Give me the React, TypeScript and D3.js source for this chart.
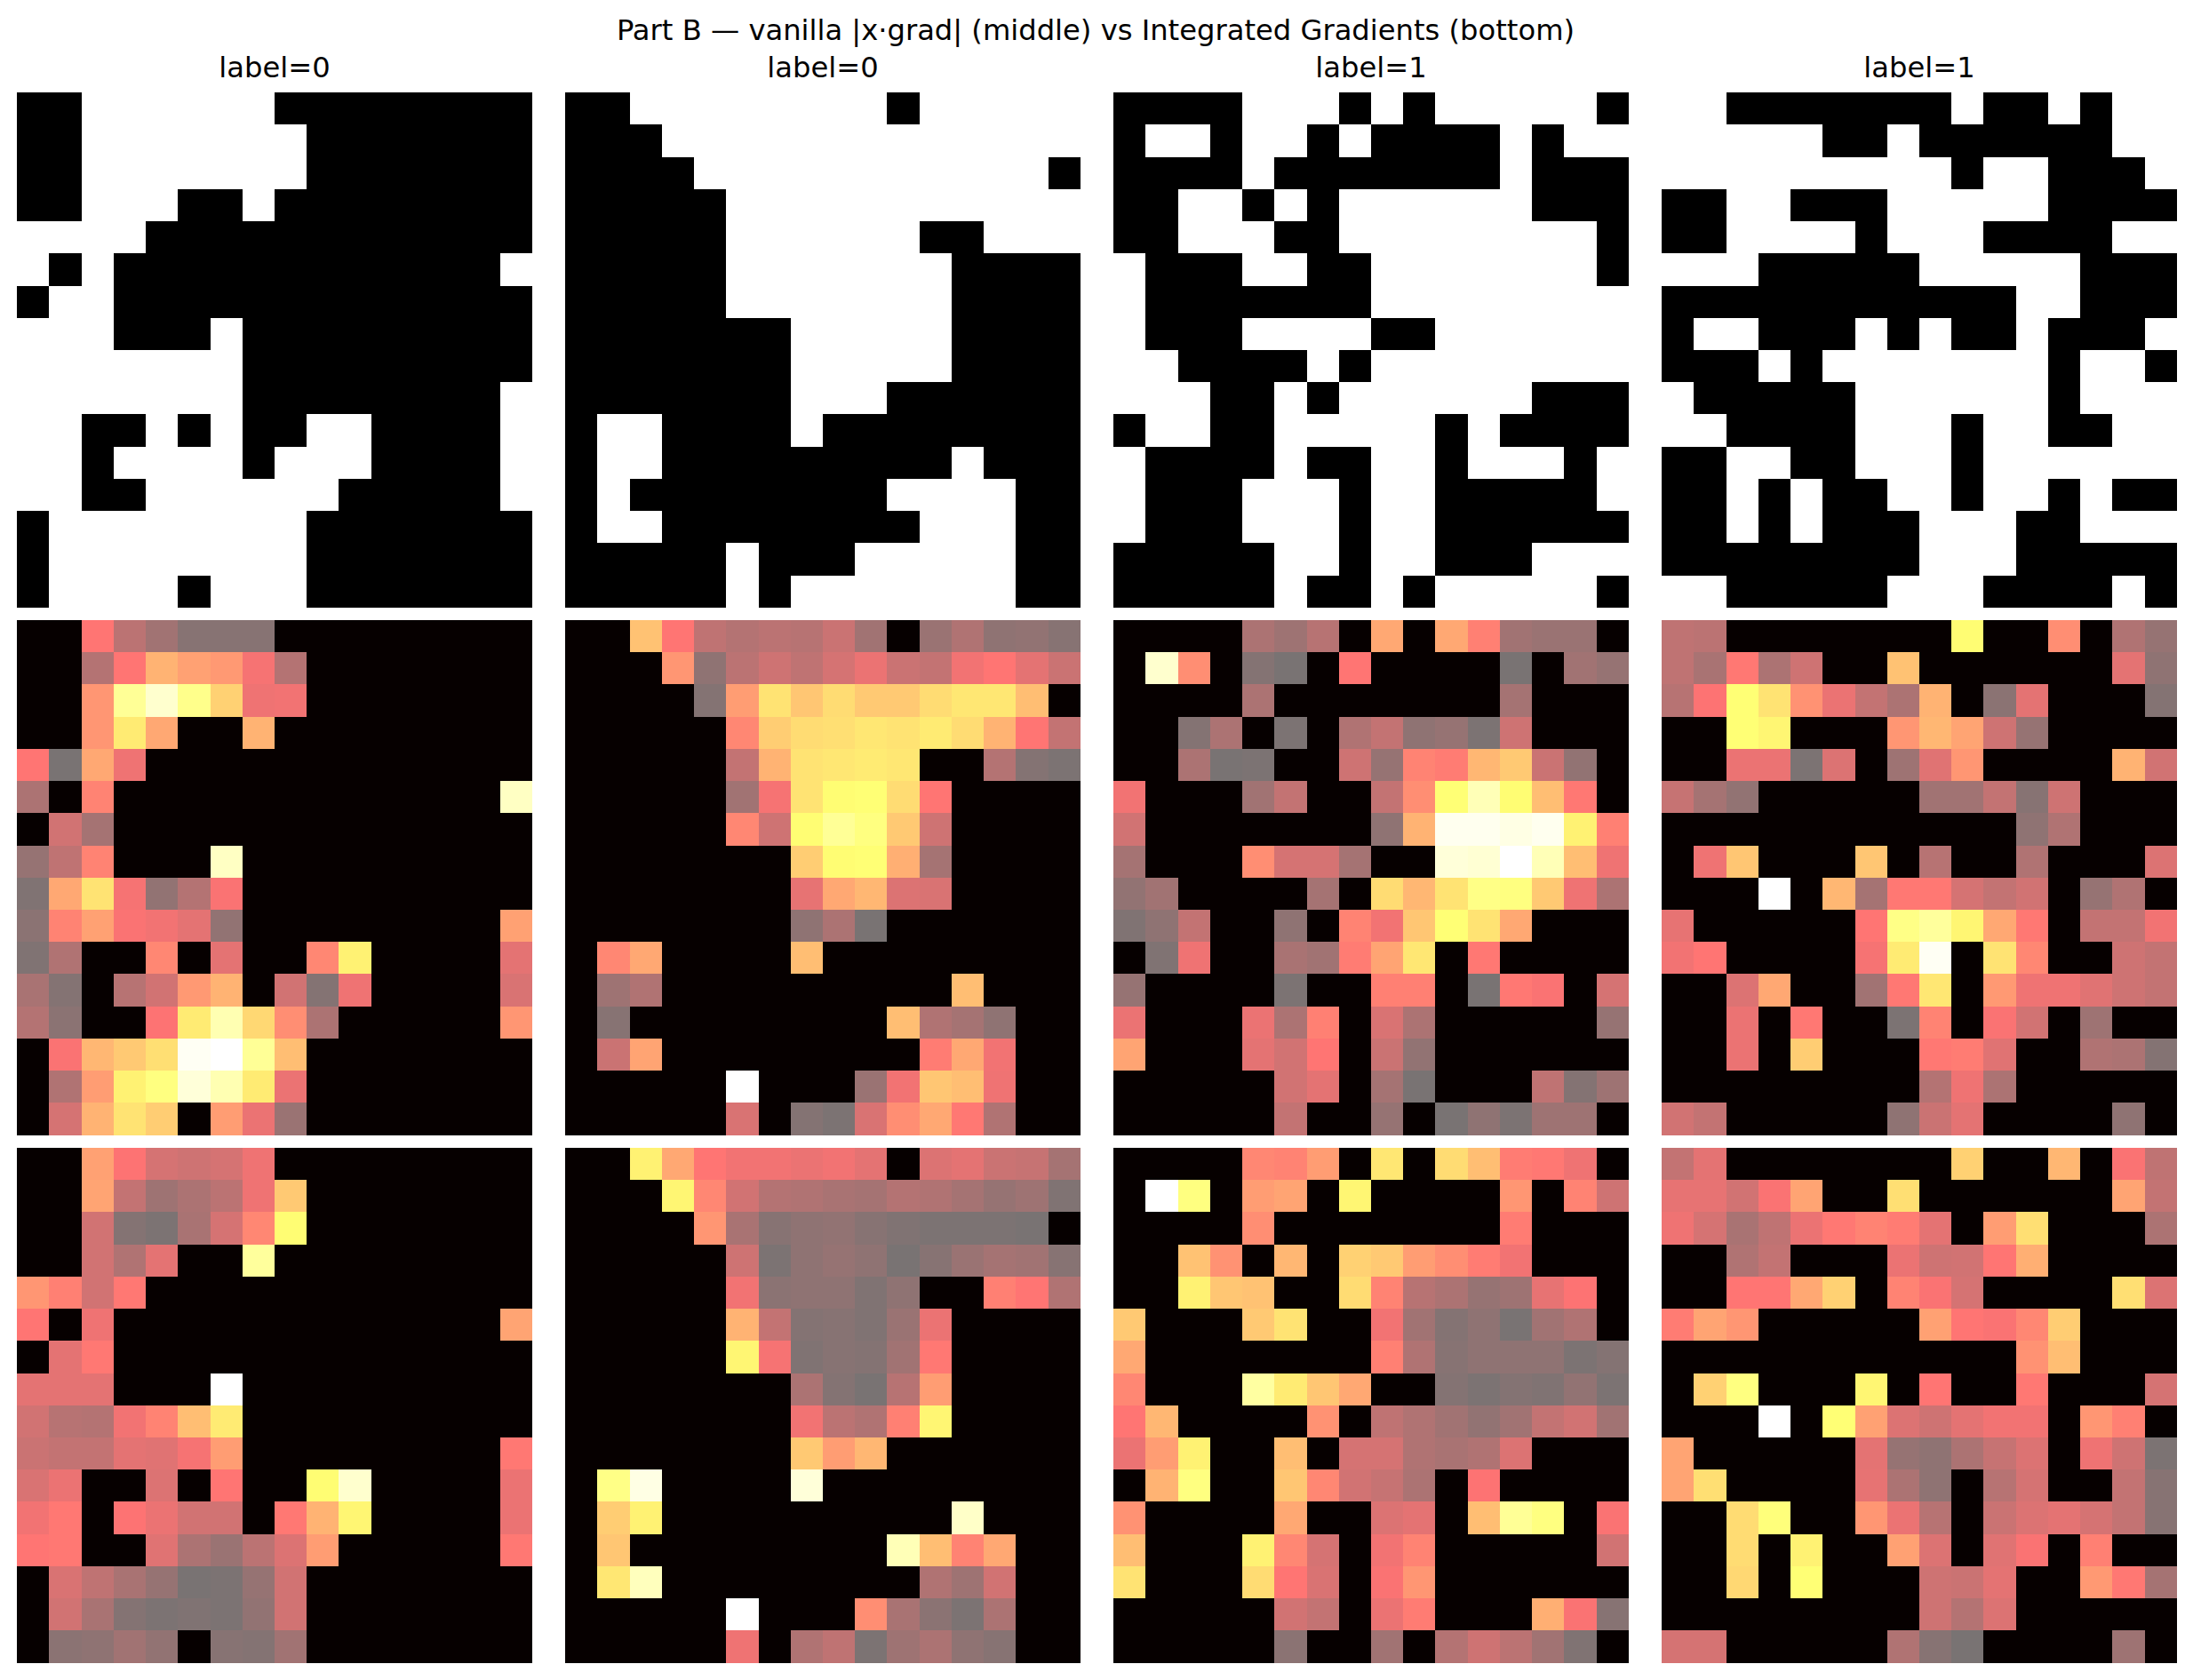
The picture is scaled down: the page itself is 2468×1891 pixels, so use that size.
import { useEffect, useRef } from "react";
import * as d3 from "d3";

const title = "Part B — vanilla |x·grad| (middle) vs Integrated Gradients (bottom)";
const labels = [0, 0, 1, 1];

// input images, # = black pixel
const input0 = [
  "##......########",
  "##.......#######",
  "##.......#######",
  "##...##.########",
  "....############",
  ".#.############.",
  "#..#############",
  "...###.#########",
  ".......#########",
  ".......########.",
  "..##.#.##..####.",
  "..#....#...####.",
  "..##......#####.",
  "#........#######",
  "#........#######",
  "#....#...#######",
];
const input1 = [
  "##........#.....",
  "###.............",
  "####...........#",
  "#####...........",
  "#####......##...",
  "#####.......####",
  "#####.......####",
  "#######.....####",
  "#######.....####",
  "#######...######",
  "#..####.########",
  "#..#########.###",
  "#.########....##",
  "#..########...##",
  "#####.###.....##",
  "#####.#.......##",
];
const input2 = [
  "####...#.#.....#",
  "#..#..#.####.#..",
  "####.#######.###",
  "##..#.#......###",
  "##...##........#",
  ".###..##.......#",
  ".#######........",
  ".###....##......",
  "..####.#........",
  "...##.#......###",
  "#..##.....#.####",
  ".####.##..#...#.",
  ".###...#..#####.",
  ".###...#..######",
  "#####..#..###...",
  "#####.##.#.....#",
];
const input3 = [
  "..#######.##.#..",
  ".....##.######..",
  ".........#..###.",
  "##..###.....####",
  "##....#...####..",
  "...#####.....###",
  "###########..###",
  "#..###.#.##.###.",
  "###.#.......#..#",
  ".#####......#...",
  "..####...#..##..",
  "##..##...#......",
  "##.#.##..#..#.##",
  "##.#.###...##...",
  "########...#####",
  "..#####...####.#",
];

// vanilla |x*grad|, normalised, in percent
const vanilla0 = [
  [0, 0, 37, 18, 11, 4, 4, 4, 0, 0, 0, 0, 0, 0, 0, 0],
  [0, 0, 16, 37, 54, 49, 47, 34, 16, 0, 0, 0, 0, 0, 0, 0],
  [0, 0, 46, 81, 91, 79, 62, 32, 33, 0, 0, 0, 0, 0, 0, 0],
  [0, 0, 46, 69, 51, 0, 0, 54, 0, 0, 0, 0, 0, 0, 0, 0],
  [37, 0, 51, 32, 0, 0, 0, 0, 0, 0, 0, 0, 0, 0, 0, 0],
  [14, 0, 41, 0, 0, 0, 0, 0, 0, 0, 0, 0, 0, 0, 0, 89],
  [0, 24, 12, 0, 0, 0, 0, 0, 0, 0, 0, 0, 0, 0, 0, 0],
  [8, 19, 41, 0, 0, 0, 89, 0, 0, 0, 0, 0, 0, 0, 0, 0],
  [2, 51, 67, 34, 7, 16, 35, 0, 0, 0, 0, 0, 0, 0, 0, 0],
  [5, 41, 49, 35, 33, 29, 7, 0, 0, 0, 0, 0, 0, 0, 0, 49],
  [2, 15, 0, 0, 42, 0, 29, 0, 0, 42, 71, 0, 0, 0, 0, 29],
  [13, 3, 0, 17, 24, 47, 54, 0, 24, 3, 32, 0, 0, 0, 0, 26],
  [16, 5, 0, 0, 36, 69, 86, 64, 44, 14, 0, 0, 0, 0, 0, 46],
  [0, 35, 55, 60, 66, 98, 100, 81, 57, 0, 0, 0, 0, 0, 0, 0],
  [0, 15, 48, 71, 77, 93, 86, 69, 31, 0, 0, 0, 0, 0, 0, 0],
  [0, 25, 54, 67, 61, 0, 48, 31, 9, 0, 0, 0, 0, 0, 0, 0],
];
const vanilla1 = [
  [0, 0, 58, 37, 19, 16, 18, 17, 22, 11, 0, 9, 15, 6, 7, 4],
  [0, 0, 0, 46, 6, 18, 23, 19, 25, 31, 22, 20, 33, 37, 29, 22],
  [0, 0, 0, 0, 3, 48, 67, 59, 65, 60, 60, 65, 68, 68, 57, 0],
  [0, 0, 0, 0, 0, 42, 61, 65, 66, 68, 67, 69, 65, 54, 37, 20],
  [0, 0, 0, 0, 0, 20, 54, 67, 68, 69, 68, 0, 0, 16, 3, 1],
  [0, 0, 0, 0, 0, 11, 34, 67, 74, 75, 65, 37, 0, 0, 0, 0],
  [0, 0, 0, 0, 0, 42, 23, 74, 81, 77, 60, 23, 0, 0, 0, 0],
  [0, 0, 0, 0, 0, 0, 0, 61, 74, 75, 53, 12, 0, 0, 0, 0],
  [0, 0, 0, 0, 0, 0, 0, 30, 51, 55, 27, 26, 0, 0, 0, 0],
  [0, 0, 0, 0, 0, 0, 0, 6, 14, 0, 0, 0, 0, 0, 0, 0],
  [0, 42, 51, 0, 0, 0, 0, 57, 0, 0, 0, 0, 0, 0, 0, 0],
  [0, 10, 15, 0, 0, 0, 0, 0, 0, 0, 0, 0, 57, 0, 0, 0],
  [0, 4, 0, 0, 0, 0, 0, 0, 0, 0, 57, 15, 12, 6, 0, 0],
  [0, 22, 50, 0, 0, 0, 0, 0, 0, 0, 0, 39, 51, 33, 0, 0],
  [0, 0, 0, 0, 0, 100, 0, 0, 0, 9, 33, 59, 57, 32, 0, 0],
  [0, 0, 0, 0, 0, 26, 0, 3, 1, 26, 44, 51, 38, 15, 0, 0],
];
const vanilla2 = [
  [0, 0, 0, 0, 14, 10, 17, 0, 51, 0, 51, 40, 11, 9, 9, 0],
  [0, 91, 44, 0, 3, 0, 0, 37, 0, 0, 0, 0, 0, 0, 11, 8],
  [0, 0, 0, 0, 14, 0, 0, 0, 0, 0, 0, 0, 12, 0, 0, 0],
  [0, 0, 3, 14, 0, 1, 0, 15, 20, 6, 8, 1, 23, 0, 0, 0],
  [0, 0, 14, 0, 1, 0, 0, 23, 8, 41, 39, 55, 60, 22, 7, 0],
  [33, 0, 0, 0, 11, 20, 0, 0, 20, 44, 75, 87, 74, 57, 38, 0],
  [24, 0, 0, 0, 0, 0, 0, 0, 6, 54, 97, 97, 95, 97, 71, 40],
  [12, 0, 0, 0, 44, 25, 25, 12, 0, 0, 93, 92, 100, 87, 57, 32],
  [7, 11, 0, 0, 0, 0, 12, 0, 65, 55, 67, 78, 77, 60, 32, 14],
  [2, 6, 20, 0, 0, 6, 0, 41, 33, 59, 75, 67, 51, 0, 0, 0],
  [0, 2, 32, 0, 0, 13, 11, 39, 50, 68, 0, 38, 0, 0, 0, 0],
  [8, 0, 0, 0, 0, 1, 0, 0, 40, 40, 0, 0, 38, 35, 0, 25],
  [31, 0, 0, 0, 31, 14, 40, 0, 26, 14, 0, 0, 0, 0, 0, 8],
  [50, 0, 0, 0, 29, 24, 37, 0, 22, 7, 0, 0, 0, 0, 0, 0],
  [0, 0, 0, 0, 0, 24, 29, 0, 12, 0, 0, 0, 0, 19, 3, 10],
  [0, 0, 0, 0, 0, 20, 0, 0, 8, 0, 0, 6, 1, 10, 10, 0],
];
const vanilla3 = [
  [19, 18, 0, 0, 0, 0, 0, 0, 0, 74, 0, 0, 44, 0, 15, 8],
  [19, 13, 38, 14, 23, 0, 0, 58, 0, 0, 0, 0, 0, 0, 29, 6],
  [17, 36, 75, 67, 45, 31, 20, 14, 54, 0, 5, 29, 0, 0, 0, 3],
  [0, 0, 75, 72, 0, 0, 0, 46, 55, 50, 23, 8, 0, 0, 0, 0],
  [0, 0, 31, 31, 1, 27, 0, 10, 28, 46, 0, 0, 0, 0, 54, 24],
  [21, 12, 7, 0, 0, 0, 0, 0, 11, 11, 20, 4, 23, 0, 0, 0],
  [0, 0, 0, 0, 0, 0, 0, 0, 0, 0, 0, 6, 15, 0, 0, 0],
  [0, 32, 59, 0, 0, 0, 59, 0, 17, 0, 0, 15, 0, 0, 0, 27],
  [0, 0, 0, 100, 0, 55, 12, 38, 38, 25, 20, 24, 0, 8, 15, 0],
  [30, 0, 0, 0, 0, 0, 37, 78, 82, 72, 51, 38, 0, 20, 20, 33],
  [33, 37, 0, 0, 0, 0, 34, 69, 98, 0, 67, 42, 0, 0, 23, 20],
  [0, 0, 27, 51, 0, 0, 11, 38, 68, 0, 47, 32, 32, 28, 23, 20],
  [0, 0, 31, 0, 38, 0, 0, 1, 41, 0, 35, 24, 0, 10, 0, 0],
  [0, 0, 31, 0, 61, 0, 0, 0, 38, 39, 28, 0, 0, 15, 14, 3],
  [0, 0, 0, 0, 0, 0, 0, 0, 16, 32, 14, 0, 0, 0, 0, 0],
  [24, 20, 0, 0, 0, 0, 0, 6, 22, 29, 0, 0, 0, 0, 6, 0],
];

// integrated gradients, normalised, in percent
const integrated0 = [
  [0, 0, 49, 36, 25, 23, 25, 32, 0, 0, 0, 0, 0, 0, 0, 0],
  [0, 0, 50, 20, 10, 14, 18, 32, 60, 0, 0, 0, 0, 0, 0, 0],
  [0, 0, 24, 3, 1, 13, 25, 42, 74, 0, 0, 0, 0, 0, 0, 0],
  [0, 0, 24, 15, 29, 0, 0, 82, 0, 0, 0, 0, 0, 0, 0, 0],
  [46, 40, 24, 38, 0, 0, 0, 0, 0, 0, 0, 0, 0, 0, 0, 0],
  [37, 0, 32, 0, 0, 0, 0, 0, 0, 0, 0, 0, 0, 0, 0, 50],
  [0, 29, 38, 0, 0, 0, 0, 0, 0, 0, 0, 0, 0, 0, 0, 0],
  [29, 29, 29, 0, 0, 0, 100, 0, 0, 0, 0, 0, 0, 0, 0, 0],
  [24, 17, 16, 33, 41, 57, 69, 0, 0, 0, 0, 0, 0, 0, 0, 0],
  [22, 20, 20, 29, 28, 34, 48, 0, 0, 0, 0, 0, 0, 0, 0, 38],
  [26, 31, 0, 0, 27, 0, 37, 0, 0, 74, 91, 0, 0, 0, 0, 31],
  [33, 38, 0, 36, 31, 24, 24, 0, 38, 54, 72, 0, 0, 0, 0, 31],
  [37, 38, 0, 0, 28, 14, 9, 18, 27, 48, 0, 0, 0, 0, 0, 38],
  [0, 26, 19, 13, 8, 0, 1, 8, 24, 0, 0, 0, 0, 0, 0, 0],
  [0, 24, 13, 3, 1, 2, 1, 7, 24, 0, 0, 0, 0, 0, 0, 0],
  [0, 5, 6, 11, 7, 0, 4, 3, 11, 0, 0, 0, 0, 0, 0, 0],
];
const integrated1 = [
  [0, 0, 71, 51, 37, 33, 33, 31, 33, 29, 0, 27, 29, 22, 21, 12],
  [0, 0, 0, 72, 42, 24, 16, 15, 13, 12, 16, 15, 12, 8, 10, 2],
  [0, 0, 0, 0, 46, 13, 4, 6, 7, 4, 2, 1, 1, 1, 0, 0],
  [0, 0, 0, 0, 0, 23, 1, 6, 8, 6, 0, 4, 9, 12, 11, 4],
  [0, 0, 0, 0, 0, 33, 5, 6, 6, 2, 6, 0, 0, 40, 37, 15],
  [0, 0, 0, 0, 0, 54, 20, 3, 4, 2, 9, 31, 0, 0, 0, 0],
  [0, 0, 0, 0, 0, 72, 34, 2, 4, 3, 11, 38, 0, 0, 0, 0],
  [0, 0, 0, 0, 0, 0, 0, 14, 3, 0, 17, 48, 0, 0, 0, 0],
  [0, 0, 0, 0, 0, 0, 0, 33, 18, 15, 40, 72, 0, 0, 0, 0],
  [0, 0, 0, 0, 0, 0, 0, 60, 48, 55, 0, 0, 0, 0, 0, 0],
  [0, 78, 95, 0, 0, 0, 0, 93, 0, 0, 0, 0, 0, 0, 0, 0],
  [0, 61, 71, 0, 0, 0, 0, 0, 0, 0, 0, 0, 90, 0, 0, 0],
  [0, 59, 0, 0, 0, 0, 0, 0, 0, 0, 87, 57, 41, 51, 0, 0],
  [0, 68, 88, 0, 0, 0, 0, 0, 0, 0, 0, 15, 10, 24, 0, 0],
  [0, 0, 0, 0, 0, 100, 0, 0, 0, 44, 13, 5, 1, 14, 0, 0],
  [0, 0, 0, 0, 0, 32, 0, 15, 19, 1, 10, 14, 6, 4, 0, 0],
];
const integrated2 = [
  [0, 0, 0, 0, 42, 41, 48, 0, 68, 0, 65, 57, 39, 38, 32, 0],
  [0, 100, 77, 0, 48, 50, 0, 72, 0, 0, 0, 0, 46, 0, 41, 23],
  [0, 0, 0, 0, 44, 0, 0, 0, 0, 0, 0, 0, 39, 0, 0, 0],
  [0, 0, 58, 45, 0, 55, 0, 62, 60, 48, 44, 39, 33, 0, 0, 0],
  [0, 0, 71, 59, 58, 0, 0, 65, 41, 17, 14, 8, 10, 30, 36, 0],
  [60, 0, 0, 0, 60, 67, 0, 0, 33, 11, 3, 6, 0, 11, 15, 0],
  [51, 0, 0, 0, 0, 0, 0, 0, 40, 15, 4, 6, 6, 6, 1, 3],
  [42, 0, 0, 0, 83, 69, 59, 51, 0, 0, 3, 1, 3, 2, 7, 1],
  [37, 55, 0, 0, 0, 0, 45, 0, 19, 15, 11, 7, 11, 20, 24, 11],
  [31, 48, 71, 0, 0, 57, 0, 25, 25, 15, 13, 15, 27, 0, 0, 0],
  [0, 54, 77, 0, 0, 59, 42, 24, 21, 14, 0, 36, 0, 0, 0, 0],
  [45, 0, 0, 0, 0, 51, 0, 0, 27, 29, 0, 57, 81, 77, 0, 35],
  [57, 0, 0, 0, 71, 42, 25, 0, 33, 41, 0, 0, 0, 0, 0, 24],
  [67, 0, 0, 0, 65, 37, 26, 0, 35, 46, 0, 0, 0, 0, 0, 0],
  [0, 0, 0, 0, 0, 24, 20, 0, 31, 39, 0, 0, 0, 53, 35, 4],
  [0, 0, 0, 0, 0, 5, 0, 0, 11, 0, 16, 23, 18, 11, 2, 0],
];
const integrated3 = [
  [20, 29, 0, 0, 0, 0, 0, 0, 0, 62, 0, 0, 55, 0, 35, 19],
  [30, 30, 24, 35, 50, 0, 0, 66, 0, 0, 0, 0, 0, 0, 50, 20],
  [32, 25, 13, 19, 31, 38, 41, 39, 29, 0, 48, 66, 0, 0, 0, 14],
  [0, 0, 15, 20, 0, 0, 0, 31, 23, 24, 37, 53, 0, 0, 0, 0],
  [0, 0, 37, 37, 51, 62, 0, 41, 35, 25, 0, 0, 0, 0, 66, 27],
  [39, 50, 46, 0, 0, 0, 0, 0, 49, 37, 35, 42, 61, 0, 0, 0],
  [0, 0, 0, 0, 0, 0, 0, 0, 0, 0, 0, 45, 57, 0, 0, 0],
  [0, 62, 77, 0, 0, 0, 72, 0, 37, 0, 0, 38, 0, 0, 0, 25],
  [0, 0, 0, 100, 0, 75, 49, 27, 23, 29, 33, 33, 0, 46, 40, 0],
  [50, 0, 0, 0, 0, 0, 29, 8, 6, 14, 21, 27, 0, 32, 23, 1],
  [50, 66, 0, 0, 0, 0, 30, 14, 6, 0, 17, 25, 0, 0, 20, 4],
  [0, 0, 65, 76, 0, 0, 46, 31, 17, 0, 22, 27, 29, 25, 20, 4],
  [0, 0, 65, 0, 71, 0, 0, 49, 27, 0, 28, 35, 0, 40, 0, 0],
  [0, 0, 64, 0, 75, 0, 0, 0, 23, 22, 29, 0, 0, 47, 38, 12],
  [0, 0, 0, 0, 0, 0, 0, 0, 23, 16, 27, 0, 0, 0, 0, 0],
  [25, 25, 0, 0, 0, 0, 0, 15, 4, 0, 0, 0, 0, 0, 10, 0],
];

const inputs = [input0, input1, input2, input3];
const vanilla = [vanilla0, vanilla1, vanilla2, vanilla3];
const integrated = [integrated0, integrated1, integrated2, integrated3];

const width = 2468;
const height = 1891;
const panelSize = 579.6;
const colLeft = [19.2, 636.2, 1253.2, 1870.2];
const rowTop = [104.2, 698, 1292];
const overlayAlpha = 0.55;
const fontSize = 32.2;

// matplotlib "hot"
const hotR = d3.scaleLinear([0, 0.365, 1], [0.0416, 1, 1]);
const hotG = d3.scaleLinear([0, 0.365, 0.746, 1], [0, 0, 1, 1]);
const hotB = d3.scaleLinear([0, 0.746, 1], [0, 0, 1]);
const hot = (v: number) =>
  d3.rgb(hotR(v) * 255, hotG(v) * 255, hotB(v) * 255).formatRgb();

export default function App() {
  const ref = useRef<SVGSVGElement>(null);

  useEffect(() => {
    const svg = d3.select(ref.current!);
    svg.selectAll("*").remove();

    const cell = d3.scaleBand<number>().domain(d3.range(16)).range([0, panelSize]);

    svg
      .append("text")
      .attr("x", width / 2 - 1)
      .attr("y", 44.5)
      .attr("text-anchor", "middle")
      .attr("font-size", fontSize)
      .text(title);

    inputs.forEach((image, c) => {
      svg
        .append("text")
        .attr("x", colLeft[c] + panelSize / 2)
        .attr("y", 87)
        .attr("text-anchor", "middle")
        .attr("font-size", fontSize)
        .text(`label=${labels[c]}`);

      const pixels = image.flatMap((row, r) =>
        row.split("").map((ch, k) => ({ r, k, black: ch === "#" }))
      );

      [null, vanilla[c], integrated[c]].forEach((heat, rowIdx) => {
        const g = svg
          .append("g")
          .attr("transform", `translate(${colLeft[c]},${rowTop[rowIdx]})`)
          .attr("shape-rendering", "crispEdges");

        g.selectAll("rect.base")
          .data(pixels)
          .join("rect")
          .attr("class", "base")
          .attr("x", (d) => cell(d.k)!)
          .attr("y", (d) => cell(d.r)!)
          .attr("width", cell.bandwidth())
          .attr("height", cell.bandwidth())
          .attr("fill", (d) => (d.black ? "#000" : "#fff"));

        if (heat) {
          g.selectAll("rect.heat")
            .data(pixels)
            .join("rect")
            .attr("class", "heat")
            .attr("x", (d) => cell(d.k)!)
            .attr("y", (d) => cell(d.r)!)
            .attr("width", cell.bandwidth())
            .attr("height", cell.bandwidth())
            .attr("fill", (d) => hot(heat[d.r][d.k] / 100))
            .attr("fill-opacity", overlayAlpha);
        }
      });
    });
  }, []);

  return (
    <svg
      ref={ref}
      width={width}
      height={height}
      fontFamily="DejaVu Sans"
      fill="#000"
      style={{ position: "absolute", left: 0, top: 0, background: "#fff" }}
    />
  );
}
